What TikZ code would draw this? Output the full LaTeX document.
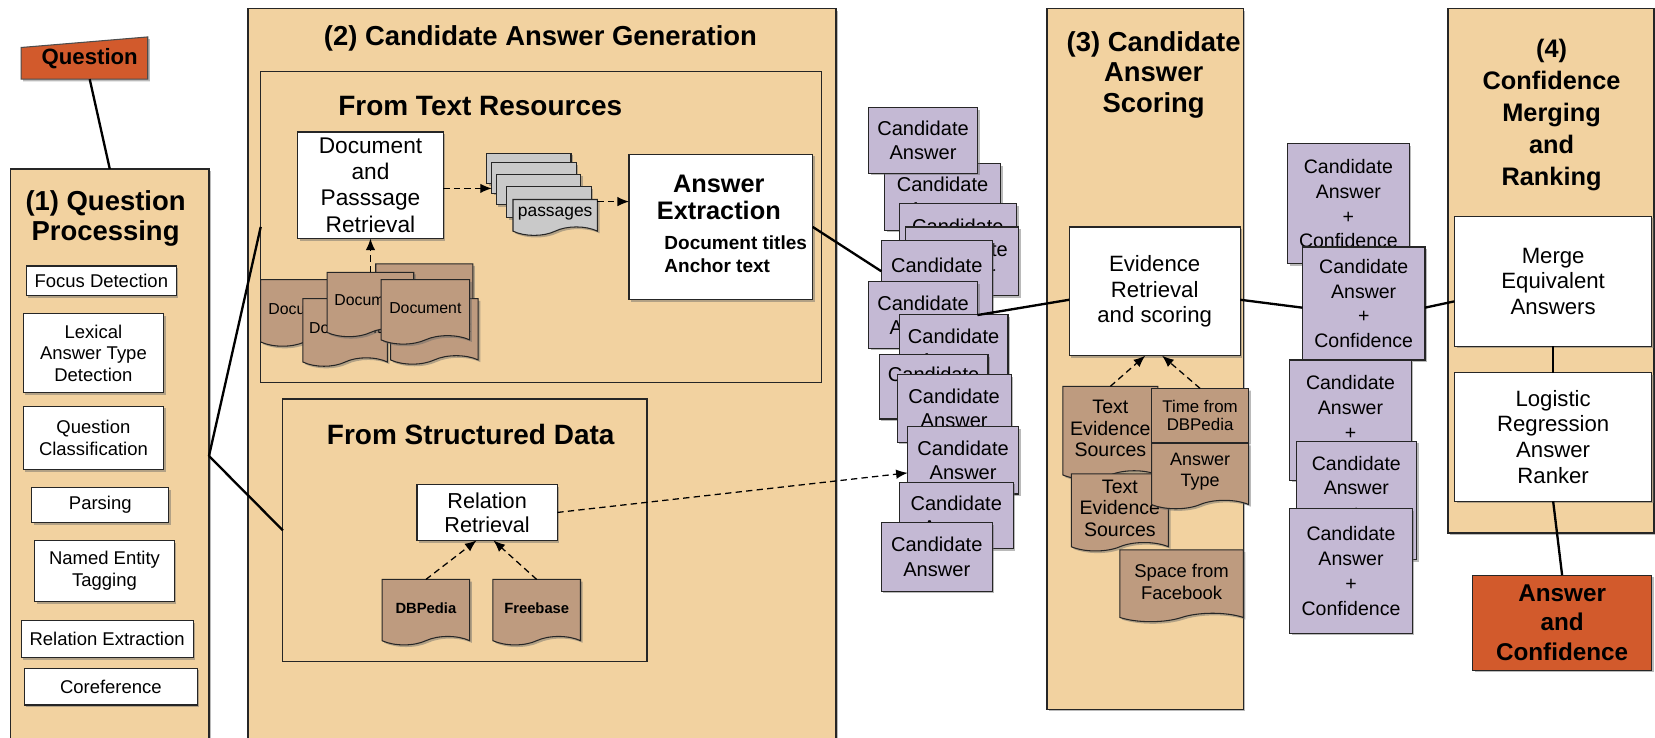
\documentclass[tikz,border=0pt]{standalone}
\usepackage{fontspec}
\setmainfont{Liberation Sans}
\usetikzlibrary{shapes.symbols,shadows,arrows.meta,calc}

\definecolor{tan}{HTML}{F2D2A0}
\definecolor{purp}{HTML}{C4B9D4}
\definecolor{brn}{HTML}{BE9B7F}
\definecolor{qred}{HTML}{D25A2C}
\definecolor{pgray}{HTML}{C9C9C9}

\newcommand\fsz[2]{\fontsize{#1pt}{#2pt}\selectfont}
\newcommand\boxat[7]{\node[#1, minimum width={#5-#3}, minimum height={#6-#4}] (#2) at ({(#3+#5)/2},{(#4+#6)/2}) {#7};}

\tikzset{
 shad/.style={drop shadow={shadow xshift=2pt,shadow yshift=-2pt,opacity=0.45,fill=black!60}},
 sect/.style={draw=black!85,line width=1.3pt,fill=tan,shad,inner sep=0pt,outer sep=0pt},
 subsect/.style={draw=black!85,line width=1.1pt,fill=tan,inner sep=0pt,outer sep=0pt},
 wbox/.style={draw=black!85,line width=1.1pt,fill=white,shad,align=center,inner sep=0pt,outer sep=0pt,font=\fsz{17.5}{20.5}},
 cand/.style={draw=black!85,line width=1.1pt,fill=purp,shad,align=center,inner sep=0pt,outer sep=0pt,font=\fsz{19}{23}},
 doc/.style={tape,tape bend top=none,tape bend height=8pt,draw=black!85,line width=1pt,fill=brn,shad,align=center,inner sep=0pt,outer sep=0pt},
 sheet/.style={draw=black!85,line width=1pt,fill=pgray,shad,inner sep=0pt,outer sep=0pt},
 conn/.style={line width=2.2pt,black},
 darr/.style={dash pattern=on 6pt off 4pt,line width=1.2pt,-{Latex[length=11pt,width=9pt]}},
 ttl/.style={font=\bfseries\fsz{26.5}{29},align=center},
}

\begin{document}
\begin{tikzpicture}[x=1pt,y=-1pt]
\useasboundingbox (0,0) rectangle (1568,699);
\clip (0,0) rectangle (1568,699);
\fill[white] (0,0) rectangle (1568,699);

% ---------- Question ----------
\path[draw=black!70,line width=1pt,fill=qred,shad] (20,45) -- (140,35) -- (140,75) -- (20,75) -- cycle;
\node[font=\bfseries\fsz{21}{25}] (q) at (85,56) {Question};
\coordinate (qb) at (85,75);

% ---------- (1) ----------
\boxat{sect}{p1}{10}{160}{198}{760}{}
\node[ttl,font=\bfseries\fsz{26}{29}] (t1) at (100,207) {(1) Question\\Processing};
\boxat{wbox}{fd}{25}{252}{167}{280}{Focus Detection}
\boxat{wbox}{lat}{22}{297}{155}{372}{Lexical\\Answer Type\\Detection}
\boxat{wbox}{qc}{22}{385}{155}{445}{Question\\Classification}
\boxat{wbox}{par}{30}{462}{160}{495}{Parsing}
\boxat{wbox}{ner}{33}{512}{165}{570}{Named Entity\\Tagging}
\boxat{wbox}{rel}{20}{588}{183}{623}{Relation Extraction}
\boxat{wbox}{cor}{23}{633}{187}{668}{Coreference}
\draw[conn] (qb) -- (p1.north);
\coordinate (j) at (198,432);

% ---------- (2) ----------
\boxat{sect}{p2}{235}{8}{792}{760}{}
\node[ttl,font=\bfseries\fsz{26}{29}] (t2) at (512,36) {(2) Candidate Answer Generation};
\boxat{subsect}{ftr}{247}{68}{778}{362}{}
\node[ttl] (t2a) at (455,100) {From Text Resources};
\boxat{wbox,font=\fsz{21.5}{24.7}}{dpr}{282}{125}{420}{226}{Document\\and\\Passsage\\Retrieval}
% passages
\boxat{sheet}{s1}{461}{145}{541}{174}{}
\boxat{sheet}{s2}{466}{154}{546}{183}{}
\boxat{sheet}{s3}{470}{165}{550}{194}{}
\boxat{sheet}{s4}{480}{177}{560}{206}{}
\boxat{doc,fill=pgray,font=\fsz{16.5}{20}}{s5}{486}{185}{566}{219}{passages}
% answer extraction
\boxat{wbox}{ae}{596}{146}{770}{284}{}
\node[font=\bfseries\fsz{24}{26}] (aet) at (681,187) [align=center] {Answer\\Extraction};
\node[font=\bfseries\fsz{18}{22},align=left,anchor=west] (aes) at (626,241) {Document titles\\Anchor text};
% documents
\boxat{doc}{dD}{356}{246}{448}{302}{}
\boxat{doc,font=\fsz{15}{18}}{dA}{247}{261}{330}{324}{Document}
\boxat{doc,font=\fsz{15}{18}}{dB}{287}{279}{367}{343}{Document}
\boxat{doc,font=\fsz{15}{18}}{dF}{370}{279}{453}{341}{Document}
\boxat{doc,font=\fsz{15}{18}}{dC}{310}{254}{392}{315}{Document}
\boxat{doc,font=\fsz{15}{18}}{dE}{361}{261}{445}{322}{Document}
\draw[darr] (dC.north -| dpr.south) -- (dpr.south);
\draw[darr] ([yshift=-3pt]dpr.east) -- ([yshift=-3pt]dpr.east -| s2.west);
\draw[darr] ([yshift=11pt]s5.east) -- ([yshift=11pt]s5.east -| ae.west);

% structured data
\boxat{subsect}{fsd}{268}{378}{613}{627}{}
\node[ttl] (t2b) at (446,412) {From Structured Data};
\boxat{wbox,font=\fsz{20.5}{23}}{rr}{395}{459}{528}{512}{Relation\\Retrieval}
\boxat{doc,font=\bfseries\fsz{14}{17}}{dbp}{362}{545}{445}{607}{DBPedia}
\boxat{doc,font=\bfseries\fsz{14}{17}}{fb}{467}{545}{550}{607}{Freebase}
\draw[darr] (dbp.north) -- ([xshift=-10pt]rr.south);
\draw[darr] (fb.north) -- ([xshift=6pt]rr.south);

\draw[conn] (j) -- (ftr.west);
\draw[conn] (j) -- (fsd.west);

% ---------- candidate answers ----------
\boxat{cand}{c2}{838}{155}{948}{218}{Candidate\\Answer}
\boxat{cand}{c1}{823}{102}{926}{164}{Candidate\\Answer}
\boxat{cand}{c3}{852}{193}{963}{258}{Candidate\\Answer}
\boxat{cand}{c4}{858}{215}{965}{280}{Candidate\\Answer}
\boxat{cand}{c5}{835}{228}{940}{298}{Candidate\\Answer}
\boxat{cand}{c6}{823}{267}{926}{330}{Candidate\\Answer}
\boxat{cand}{c7}{852}{298}{955}{362}{Candidate\\Answer}
\boxat{cand}{c8}{833}{336}{936}{397}{Candidate\\Answer}
\boxat{cand}{c9}{850}{355}{958}{419}{Candidate\\Answer}
\boxat{cand}{c10}{860}{404}{965}{468}{Candidate\\Answer}
\boxat{cand}{c11}{852}{457}{960}{520}{Candidate\\Answer}
\boxat{cand}{c12}{835}{495}{940}{560}{Candidate\\Answer}
\draw[conn] (ae.east) -- ([yshift=6pt]c5.west);
\draw[darr] (rr.east) -- ([yshift=-12pt]c10.west);

% ---------- (3) ----------
\boxat{sect}{p3}{992}{8}{1178}{672}{}
\node[ttl,font=\bfseries\fsz{26}{28.5}] (t3) at (1093,71) {(3) Candidate\\Answer\\Scoring};
\boxat{wbox,font=\fsz{21}{24.5}}{ev}{1013}{215}{1175}{337}{Evidence\\Retrieval\\and scoring}
\boxat{doc,font=\fsz{18.5}{20.5}}{tes1}{1007}{362}{1097}{450}{Text\\Evidence\\Sources}
\boxat{doc,font=\fsz{18.5}{20.5}}{tes2}{1015}{445}{1107}{518}{Text\\Evidence\\Sources}
\boxat{doc,tape bend bottom=none,font=\fsz{16}{17}}{tdb}{1091}{368}{1183}{419}{Time from\\DBPedia}
\boxat{doc,font=\fsz{17}{20}}{at}{1091}{416}{1183}{478}{Answer\\Type}
\boxat{doc,font=\fsz{17.5}{21}}{sfb}{1061}{517}{1178}{585}{Space from\\Facebook}
\draw[darr] (tes1.north) -- ([xshift=-9pt]ev.south);
\draw[darr] (tdb.north) -- ([xshift=7pt]ev.south);
\draw[conn] (c6.east) -- ([yshift=-8pt]ev.west);

% ---------- candidate + confidence ----------
\boxat{cand,font=\fsz{18.5}{23.5}}{cc1}{1220}{136}{1335}{250}{Candidate\\Answer\\+\\Confidence}
\boxat{cand,font=\fsz{18.5}{23.5}}{cc2}{1234}{234}{1350}{341}{Candidate\\Answer\\+\\Confidence}
\boxat{cand,font=\fsz{18.5}{23.5}}{cc3}{1222}{341}{1337}{455}{Candidate\\Answer\\+\\Confidence}
\boxat{cand,font=\fsz{18.5}{23.5}}{cc4}{1228}{418}{1342}{530}{Candidate\\Answer\\+\\Confidence}
\boxat{cand,font=\fsz{18.5}{23.5}}{cc5}{1222}{482}{1338}{600}{Candidate\\Answer\\+\\Confidence}
\draw[conn] ([yshift=-8pt]ev.east) -- ([yshift=-4pt]cc2.west);

% ---------- (4) ----------
\boxat{sect}{p4}{1372}{8}{1567}{505}{}
\node[ttl,font=\bfseries\fsz{24}{30.5}] (t4) at (1470,109) {(4)\\Confidence\\Merging\\and\\Ranking};
\boxat{wbox,font=\fsz{21}{24}}{merge}{1378}{205}{1565}{328}{Merge\\Equivalent\\Answers}
\boxat{wbox,font=\fsz{21}{24.5}}{lrr}{1378}{353}{1565}{475}{Logistic\\Regression\\Answer\\Ranker}
\boxat{wbox,fill=qred,font=\bfseries\fsz{23}{27.5}}{ans}{1395}{545}{1565}{635}{Answer\\and\\Confidence}
\draw[conn] ([yshift=-4pt]cc2.east) -- ([yshift=-19pt]merge.west);
\draw[conn] (merge.south) -- (lrr.north);
\draw[conn] (lrr.south) -- (ans.north);
\end{tikzpicture}
\end{document}
